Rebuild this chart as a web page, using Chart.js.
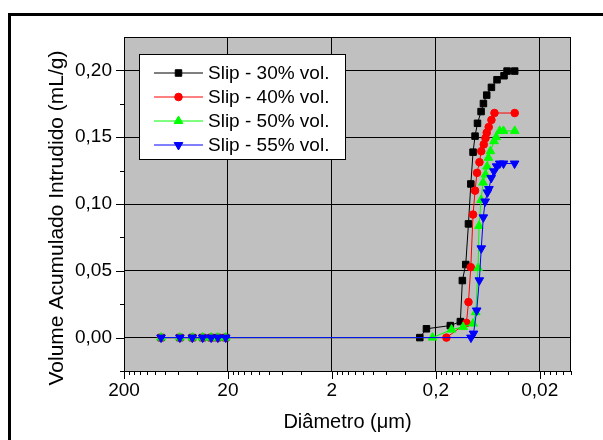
<!DOCTYPE html>
<html>
<head>
<meta charset="utf-8">
<script src="https://cdn.jsdelivr.net/npm/chart.js@4/dist/chart.umd.min.js"></script>
<style>
  html, body { margin: 0; padding: 0; background: #fff; }
  #wrap { position: relative; width: 603px; height: 440px; }
</style>
</head>
<body>
<div id="wrap"><canvas id="chart" width="603" height="440"></canvas></div>
<script>
const seriesNames = ['Slip - 30% vol.', 'Slip - 40% vol.', 'Slip - 50% vol.', 'Slip - 55% vol.'];
const seriesColors = ['#000000', '#ff0000', '#00ff00', '#0000ff'];

// coarse pores (same for every slip, nothing intruded)
const coarseDiam = [88, 58, 44, 35, 29, 25, 21];
const coarseVol = [0, 0, 0, 0, 0, 0, 0];

const diam30 = [0.285, 0.246, 0.145, 0.116, 0.111, 0.103, 0.097, 0.092, 0.0876, 0.0838, 0.0794, 0.0733, 0.0696, 0.0647, 0.0583, 0.0515, 0.0441, 0.0412, 0.0348];
const vol30 = [0, 0.0066, 0.009, 0.012, 0.0427, 0.0547, 0.0851, 0.115, 0.1388, 0.1508, 0.1604, 0.1692, 0.1752, 0.1815, 0.1873, 0.193, 0.196, 0.1995, 0.1995];

const diam40 = [0.158, 0.1014, 0.0969, 0.0921, 0.0876, 0.0838, 0.0802, 0.076, 0.0731, 0.0691, 0.0665, 0.0647, 0.0619, 0.0583, 0.0545, 0.0348];
const vol40 = [0, 0.011, 0.0266, 0.0527, 0.0921, 0.110, 0.1233, 0.1313, 0.1395, 0.1446, 0.1493, 0.1534, 0.1576, 0.1629, 0.1681, 0.1681];

const diam50 = [0.215, 0.141, 0.109, 0.0876, 0.0825, 0.0784, 0.0767, 0.0733, 0.0702, 0.0665, 0.0642, 0.0623, 0.0596, 0.055, 0.0525, 0.0485, 0.0446, 0.0348];
const vol50 = [0, 0.006, 0.008, 0.0105, 0.019, 0.052, 0.0836, 0.103, 0.116, 0.122, 0.128, 0.1346, 0.1395, 0.147, 0.150, 0.1547, 0.1547, 0.1547];

const diam55 = [0.0917, 0.0867, 0.0808, 0.0762, 0.073, 0.0698, 0.067, 0.0637, 0.0616, 0.0586, 0.0551, 0.0519, 0.0485, 0.0446, 0.0349];
const vol55 = [0, 0.003, 0.0203, 0.0429, 0.0668, 0.090, 0.1019, 0.1087, 0.1112, 0.1195, 0.1245, 0.1282, 0.1303, 0.1303, 0.1303];

const xTickValues = [200, 20, 2, 0.2, 0.02];
const xTickLabels = ['200', '20', '2', '0,2', '0,02'];
const yTickValues = [0, 0.05, 0.10, 0.15, 0.20];
const yTickLabels = ['0,00', '0,05', '0,10', '0,15', '0,20'];

const yTitle = 'Volume Acumulado Intrudido (mL/g)';
const xTitle = 'Diâmetro (\u03bcm)';

const FONT = "'Liberation Sans', Arial, sans-serif";

function toPoints(d, v) {
    const xs = coarseDiam.concat(d), ys = coarseVol.concat(v);
    return xs.map((x, i) => ({ x: x, y: ys[i] }));
}

const styles = [
    { pointStyle: 'rect', radius: 4.6, rotation: 0 },
    { pointStyle: 'circle', radius: 3.8, rotation: 0 },
    { pointStyle: 'triangle', radius: 5, rotation: 0 },
    { pointStyle: 'triangle', radius: 5, rotation: 180 }
];

const allDiam = [diam30, diam40, diam50, diam55];
const allVol = [vol30, vol40, vol50, vol55];

const datasets = seriesNames.map((name, i) => ({
    label: name,
    data: toPoints(allDiam[i], allVol[i]),
    borderColor: seriesColors[i],
    backgroundColor: seriesColors[i],
    borderWidth: 1,
    pointStyle: styles[i].pointStyle,
    pointRadius: styles[i].radius,
    pointRotation: styles[i].rotation,
    pointBorderWidth: 1,
    pointBorderColor: seriesColors[i],
    pointBackgroundColor: seriesColors[i],
    tension: 0,
    order: 3 - i
}));

// minor tick values, Origin style: 2k x 10^n inside every decade
function xMinors() {
    const out = [];
    [0.002, 0.02, 0.2, 2, 20].forEach(b => {
        for (let k = 2; k <= 9; k++) {
            const v = b * k;
            if (v >= 0.01 && v <= 200) out.push(v);
        }
    });
    return out;
}
const yMinors = [-0.025, 0.025, 0.075, 0.125, 0.175];

const framePlugin = {
    id: 'frame',
    beforeDraw(chart) {
        const { ctx, chartArea: a } = chart;
        ctx.save();
        ctx.fillStyle = '#c0c0c0';
        ctx.fillRect(a.left, a.top, a.right - a.left, a.bottom - a.top);
        ctx.restore();
    },
    afterDraw(chart) {
        const { ctx, chartArea: a } = chart;
        const xs = chart.scales.x, ys = chart.scales.y;
        ctx.save();
        ctx.strokeStyle = '#000';
        ctx.lineWidth = 1;
        ctx.strokeRect(a.left + 0.5, a.top + 0.5, a.right - a.left - 1, a.bottom - a.top);

        ctx.beginPath();
        xTickValues.forEach(v => {
            const px = Math.round(xs.getPixelForValue(v)) + 0.5;
            ctx.moveTo(px, a.bottom); ctx.lineTo(px, a.bottom + 8);
        });
        xMinors().forEach(v => {
            const px = Math.round(xs.getPixelForValue(v)) + 0.5;
            ctx.moveTo(px, a.bottom); ctx.lineTo(px, a.bottom + 4);
        });
        yTickValues.forEach(v => {
            const py = Math.round(ys.getPixelForValue(v)) + 0.5;
            ctx.moveTo(a.left, py); ctx.lineTo(a.left - 8, py);
        });
        yMinors.forEach(v => {
            const py = Math.round(ys.getPixelForValue(v)) + 0.5;
            ctx.moveTo(a.left, py); ctx.lineTo(a.left - 4, py);
        });
        ctx.stroke();

        // y axis title, a bit lower than the plot centre as in the original
        ctx.save();
        ctx.translate(57, 218);
        ctx.rotate(-Math.PI / 2);
        ctx.font = '21px ' + FONT;
        ctx.fillStyle = '#000';
        ctx.textAlign = 'center';
        ctx.textBaseline = 'middle';
        ctx.fillText(yTitle, 0, 0);
        ctx.restore();

        // legend
        const bx = 139.5, by = 54.5, bw = 206, bh = 105;
        ctx.fillStyle = '#fff';
        ctx.fillRect(bx, by, bw, bh);
        ctx.strokeRect(bx, by, bw, bh);
        ctx.font = '19px ' + FONT;
        ctx.textBaseline = 'middle';
        ctx.textAlign = 'left';
        seriesNames.forEach((name, i) => {
            const y = 72.5 + i * 24;
            ctx.strokeStyle = seriesColors[i];
            ctx.beginPath();
            ctx.moveTo(154, y + 0.5); ctx.lineTo(203, y + 0.5);
            ctx.stroke();
            ctx.fillStyle = seriesColors[i];
            Chart.helpers.drawPoint(ctx, {
                pointStyle: styles[i].pointStyle,
                radius: styles[i].radius,
                rotation: styles[i].rotation,
                borderWidth: 1
            }, 178.5, y + 0.5);
            ctx.fillStyle = '#000';
            ctx.fillText(name, 208, y + 1);
        });

        // outer figure frame
        ctx.strokeStyle = '#000';
        ctx.lineWidth = 3;
        ctx.beginPath();
        ctx.moveTo(9.5, 440); ctx.lineTo(9.5, 14.5); ctx.lineTo(603, 14.5);
        ctx.stroke();
        ctx.restore();
    }
};

const chart = new Chart(document.getElementById('chart').getContext('2d'), {
    type: 'line',
    data: { datasets: datasets },
    options: {
        responsive: false,
        animation: false,
        layout: { padding: { left: 0, top: 37, right: 32, bottom: 0 } },
        plugins: { legend: { display: false }, tooltip: { enabled: false } },
        scales: {
            x: {
                type: 'logarithmic',
                reverse: true,
                min: 0.01,
                max: 200,
                afterBuildTicks: s => { s.ticks = xTickValues.map(v => ({ value: v })); },
                afterFit: s => { s.height = 69; },
                grid: { color: '#000', lineWidth: 1, drawTicks: false },
                border: { display: false },
                ticks: {
                    color: '#000',
                    padding: 8,
                    maxRotation: 0,
                    autoSkip: false,
                    font: { family: FONT, size: 19 },
                    callback: v => {
                        const i = xTickValues.findIndex(t => Math.abs(t - v) / t < 1e-6);
                        return i >= 0 ? xTickLabels[i] : '';
                    }
                },
                title: {
                    display: true,
                    text: xTitle,
                    color: '#000',
                    font: { family: FONT, size: 20 },
                    padding: { top: 0, bottom: 6 }
                }
            },
            y: {
                min: -0.025,
                max: 0.225,
                afterBuildTicks: s => { s.ticks = yTickValues.map(v => ({ value: v })); },
                afterFit: s => { s.width = 124; },
                grid: { color: '#000', lineWidth: 1, drawTicks: false },
                border: { display: false },
                ticks: {
                    color: '#000',
                    padding: 12,
                    font: { family: FONT, size: 19 },
                    callback: v => {
                        const i = yTickValues.findIndex(t => Math.abs(t - v) < 1e-9);
                        return i >= 0 ? yTickLabels[i] : '';
                    }
                },
                title: { display: false }
            }
        }
    },
    plugins: [framePlugin]
});
</script>
</body>
</html>
